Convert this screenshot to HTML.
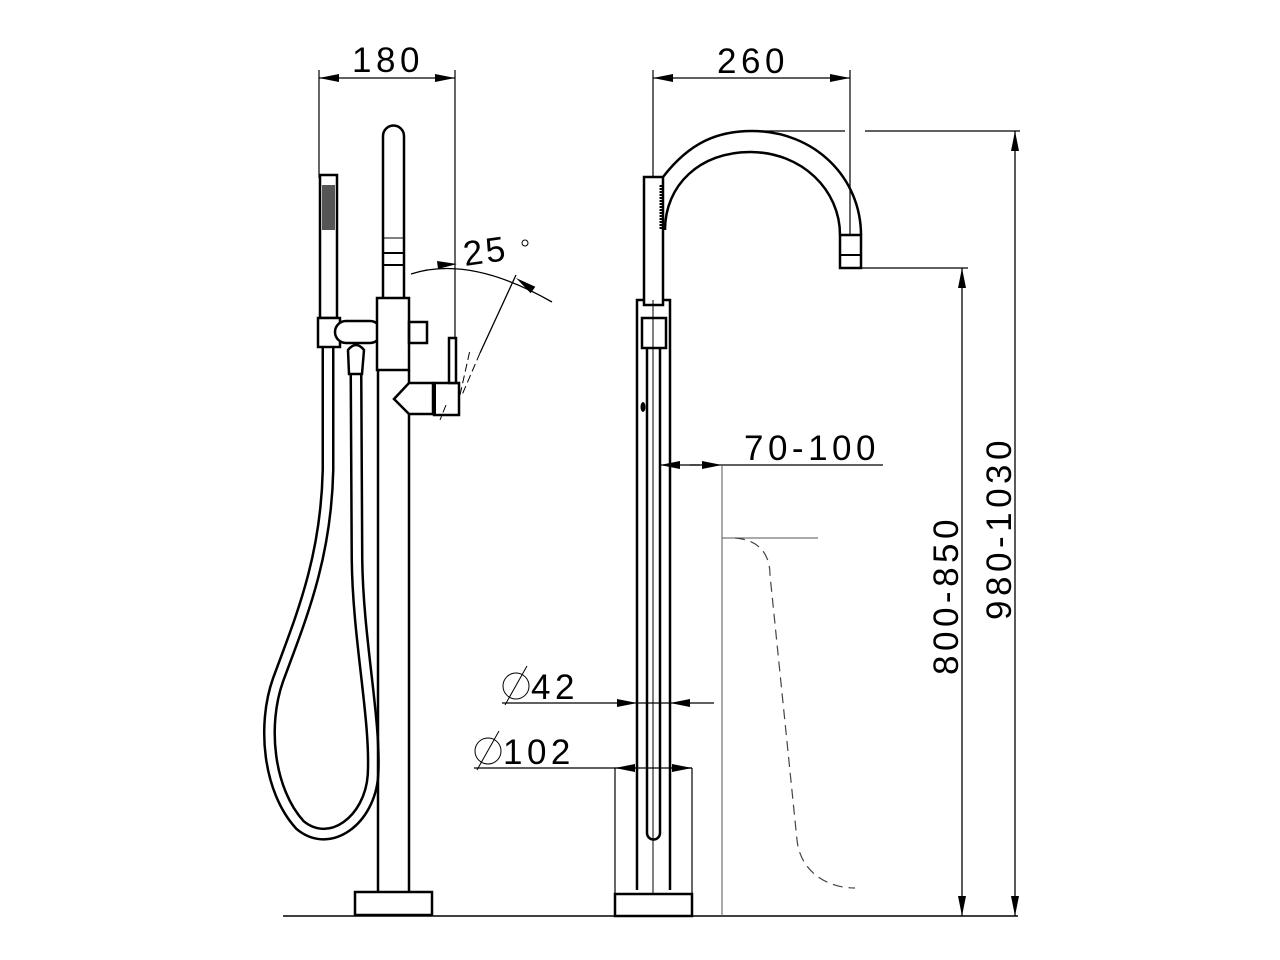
<!DOCTYPE html>
<html><head><meta charset="utf-8"><style>html,body{margin:0;padding:0;background:#fff}svg{display:block}text{font-family:"Liberation Sans",sans-serif;fill:#000}</style></head><body>
<svg width="1280" height="960" viewBox="0 0 1280 960" xmlns="http://www.w3.org/2000/svg">
<defs>
<marker id="a" viewBox="0 0 20 8" refX="20" refY="4" markerWidth="20" markerHeight="8" markerUnits="userSpaceOnUse" orient="auto"><path d="M0,0 L20,4 L0,8 z" fill="#000"/></marker>
</defs>
<g fill="none" stroke="#000">
<line x1="283" y1="916" x2="1018" y2="916" stroke-width="1.5"/>

<line x1="319" y1="70" x2="319" y2="178" stroke-width="1.2"/>
<line x1="455" y1="70" x2="455" y2="340" stroke-width="1.2"/>
<line x1="386" y1="78" x2="319" y2="78" stroke-width="1.2" marker-end="url(#a)"/>
<line x1="386" y1="78" x2="455" y2="78" stroke-width="1.2" marker-end="url(#a)"/>

<path d="M328,347 L328,470 C326,560 300,620 278,680 C262,725 268,790 300,825 C330,850 370,820 373,775 C376,720 358,640 357,560 L356,374" stroke-width="13"/>
<path d="M328,347 L328,470 C326,560 300,620 278,680 C262,725 268,790 300,825 C330,850 370,820 373,775 C376,720 358,640 357,560 L356,374" stroke="#fff" stroke-width="8"/>

<rect x="320" y="175" width="17" height="143" stroke-width="2.5" fill="#fff"/>
<rect x="322" y="185" width="13" height="45" fill="#555" stroke="none"/>
<rect x="318" y="318" width="22" height="29" stroke-width="2.5" fill="#fff"/>
<rect x="335" y="321" width="46" height="22" rx="11" stroke-width="2.5" fill="#fff"/>
<path d="M349,374 L348,350 Q356,340 364,350 L362,374 Z" stroke-width="2.5" fill="#fff"/>

<path d="M383,298 L383,136 A10,10 0 0 1 404,136 L404,298" stroke-width="2.5" fill="#fff"/>
<line x1="383" y1="238" x2="404" y2="238" stroke-width="1"/>
<line x1="383" y1="253" x2="404" y2="253" stroke-width="2"/>
<line x1="383" y1="265" x2="404" y2="265" stroke-width="2"/>
<rect x="377" y="298" width="32" height="72" stroke-width="2.5" fill="#fff"/>
<rect x="409" y="322" width="18" height="21" stroke-width="2.5"/>
<line x1="378" y1="370" x2="378" y2="892" stroke-width="2.5"/>
<line x1="409" y1="370" x2="409" y2="892" stroke-width="2.5"/>
<rect x="355" y="892" width="77" height="23" stroke-width="2.5"/>
<path d="M409,383 L433,383 L433,414 L409,414 L394,399 Z" stroke-width="2.5" fill="#fff"/>
<rect x="434" y="383" width="25" height="32" stroke-width="2.5" fill="#fff"/>
<line x1="434" y1="383" x2="434" y2="415" stroke-width="4"/>
<rect x="449" y="338" width="7" height="45" stroke-width="2.5" fill="#fff"/>
<path d="M446,405 L440,420 M460,395 L470,350" stroke-width="1" stroke-dasharray="8,4"/>

<path d="M411,274 Q470,255 552,302" stroke-width="1.3"/>
<line x1="516" y1="275" x2="480" y2="353" stroke-width="1.3"/>
<path d="M480,353 L462,395" stroke-width="1" stroke-dasharray="8,4"/>

<line x1="653" y1="70" x2="653" y2="178" stroke-width="1.2"/>
<line x1="850" y1="70" x2="850" y2="240" stroke-width="1.2"/>
<line x1="751" y1="78" x2="653" y2="78" stroke-width="1.2" marker-end="url(#a)"/>
<line x1="751" y1="78" x2="850" y2="78" stroke-width="1.2" marker-end="url(#a)"/>

<path d="M663,177 C690,142 718,131 752,131 C815,131 861,178 861,235" stroke-width="2.5"/>
<path d="M665,230 C665,185 700,152 750,152 C802,152 840,190 840,235" stroke-width="2.5"/>
<rect x="840" y="235" width="21" height="33" stroke-width="2.5" fill="#fff"/>
<line x1="840" y1="255" x2="861" y2="255" stroke-width="2"/>
<line x1="750" y1="131" x2="845" y2="131" stroke-width="1.2"/>
<line x1="865" y1="131" x2="1020" y2="131" stroke-width="1.2"/>
<line x1="861" y1="268" x2="968" y2="268" stroke-width="1.2"/>

<rect x="644" y="177" width="19" height="128" stroke-width="2.5" fill="#fff"/>
<line x1="661" y1="185" x2="661" y2="230" stroke-width="3" stroke-dasharray="2,1"/>
<path d="M637,890 L637,300 L643,300 M670,890 L670,300 L664,300" stroke-width="2.5"/>
<rect x="642" y="318" width="24" height="30" stroke-width="2.5" fill="#fff"/>
<path d="M647,348 L647,833 A6.5,6.5 0 0 0 660,833 L660,348" stroke-width="2.5"/>
<line x1="653" y1="300" x2="653" y2="894" stroke-width="1"/>
<ellipse cx="643" cy="407" rx="2.5" ry="5" fill="#000" stroke="none"/>
<rect x="615" y="894" width="77" height="22" stroke-width="2.5"/>

<line x1="700" y1="465" x2="660" y2="465" stroke-width="1.3" marker-end="url(#a)"/>
<line x1="690" y1="465" x2="722" y2="465" stroke-width="1.3" marker-end="url(#a)"/>
<line x1="722" y1="465" x2="883" y2="465" stroke-width="1.3"/>
<line x1="722" y1="465" x2="722" y2="916" stroke-width="1" stroke="#555"/>
<line x1="722" y1="538" x2="818" y2="538" stroke-width="1" stroke="#555"/>
<path d="M735,538 C760,540 770,555 770,575 L797,840 C800,870 825,888 855,888" stroke-width="1.2" stroke="#444" stroke-dasharray="10,6"/>

<line x1="502" y1="703" x2="637" y2="703" stroke-width="1.3" marker-end="url(#a)"/>
<line x1="714" y1="703" x2="670" y2="703" stroke-width="1.3" marker-end="url(#a)"/>
<line x1="637" y1="703" x2="670" y2="703" stroke-width="1.3"/>
<line x1="474" y1="768" x2="692" y2="768" stroke-width="1.3"/>
<line x1="637" y1="768" x2="615" y2="768" stroke-width="1.3" marker-end="url(#a)"/>
<line x1="670" y1="768" x2="692" y2="768" stroke-width="1.3" marker-end="url(#a)"/>
<line x1="615" y1="768" x2="615" y2="894" stroke-width="1.2"/>
<line x1="692" y1="768" x2="692" y2="894" stroke-width="1.2"/>
<circle cx="516" cy="686" r="13" stroke-width="1"/>
<line x1="505" y1="705" x2="527" y2="666" stroke-width="1"/>
<circle cx="488" cy="751" r="13" stroke-width="1"/>
<line x1="477" y1="770" x2="499" y2="731" stroke-width="1"/>

<line x1="962" y1="592" x2="962" y2="268" stroke-width="1.3" marker-end="url(#a)"/>
<line x1="962" y1="592" x2="962" y2="916" stroke-width="1.3" marker-end="url(#a)"/>
<line x1="1015" y1="525" x2="1015" y2="131" stroke-width="1.3" marker-end="url(#a)"/>
<line x1="1015" y1="525" x2="1015" y2="916" stroke-width="1.3" marker-end="url(#a)"/>
<circle cx="525" cy="243" r="3" stroke-width="1"/>
</g>
<polygon points="457,264 437,261 438,269" fill="#000"/>
<polygon points="516,278 535.3,286.7 530.7,293.3" fill="#000"/>
<g font-size="35" letter-spacing="4.5">
<text x="388" y="72" text-anchor="middle">180</text>
<text x="753" y="73" text-anchor="middle">260</text>
<text x="744" y="460">70-100</text>
<text x="531" y="699">42</text>
<text x="503" y="764">102</text>
<text transform="translate(958,595) rotate(-90)" text-anchor="middle">800-850</text>
<text transform="translate(1011,528) rotate(-90)" text-anchor="middle">980-1030</text>
<text transform="translate(465,266) rotate(-8)" letter-spacing="3">25</text>
</g>
</svg>
</body></html>
